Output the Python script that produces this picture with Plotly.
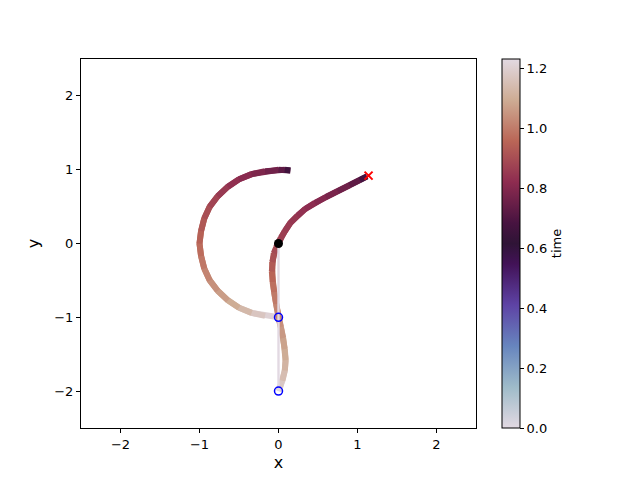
import plotly.graph_objects as go

# ---------------- data ----------------
T_MAX = 1.23  # top of the colour scale (time)

# inner bob path (x, y) and time at each point
bob1_x = [0.00, -0.17, -0.34, -0.50, -0.64, -0.77, -0.87, -0.94, -0.98, -1.00,
          -0.98, -0.94, -0.87, -0.77, -0.64, -0.50, -0.34, -0.17, 0.00, 0.08, 0.15]
bob1_y = [-1.00, -0.98, -0.94, -0.87, -0.77, -0.64, -0.50, -0.34, -0.17, 0.00,
          0.17, 0.34, 0.50, 0.64, 0.77, 0.87, 0.94, 0.98, 1.00, 1.00, 0.99]
bob1_t = [1.22, 1.19, 1.15, 1.11, 1.08, 1.05, 1.03, 1.00, 0.98, 0.955,
          0.935, 0.91, 0.89, 0.865, 0.84, 0.82, 0.80, 0.78, 0.75, 0.70, 0.63]

# outer bob path (x, y) and time at each point
bob2_x = [0.00, 0.02, 0.05, 0.08, 0.09, 0.08, 0.06, 0.03, 0.00, -0.03, -0.055,
          -0.075, -0.085, -0.08, -0.06, -0.03, 0.00, 0.03, 0.08, 0.15, 0.24, 0.34,
          0.46, 0.60, 0.75, 0.90, 1.03, 1.12]
bob2_y = [-2.00, -1.95, -1.86, -1.72, -1.58, -1.43, -1.28, -1.13, -1.00, -0.82, -0.66,
          -0.52, -0.38, -0.25, -0.13, -0.05, 0.00, 0.08, 0.17, 0.28, 0.38, 0.47,
          0.55, 0.63, 0.71, 0.79, 0.86, 0.91]
bob2_t = [1.23, 1.195, 1.16, 1.13, 1.105, 1.085, 1.065, 1.045, 1.03, 1.005, 0.985,
          0.965, 0.94, 0.915, 0.895, 0.88, 0.87, 0.865, 0.86, 0.85, 0.84, 0.825,
          0.81, 0.79, 0.77, 0.745, 0.71, 0.65]

# initial configuration: pivot -> bob 1 -> bob 2
init_x = [0.0, 0.0, 0.0]
init_y = [0.0, -1.0, -2.0]
pivot_x, pivot_y = [0.0], [0.0]
start_x, start_y = [0.0, 0.0], [-1.0, -2.0]
target_x, target_y = [1.14], [0.92]

axis_ticks = [-2, -1, 0, 1, 2]
axis_ticktext = ["\u22122", "\u22121", "0", "1", "2"]
cbar_ticks = [0.0, 0.2, 0.4, 0.6, 0.8, 1.0, 1.2]
cbar_ticktext = ["0.0", "0.2", "0.4", "0.6", "0.8", "1.0", "1.2"]

# twilight colour scale
TWILIGHT = [
    (0.0, "#e2d9e2"), (1 / 9, "#9ebbc9"), (2 / 9, "#6785be"), (3 / 9, "#5e43a5"),
    (4 / 9, "#421257"), (0.5, "#2f1436"), (5 / 9, "#471340"), (6 / 9, "#8e2c50"),
    (7 / 9, "#ba6657"), (8 / 9, "#ceac94"), (1.0, "#e2d9e2"),
]


def _rgb(h):
    h = h.lstrip("#")
    return tuple(int(h[i:i + 2], 16) for i in (0, 2, 4))


def cmap(v):
    v = min(max(v, 0.0), 1.0)
    for (p0, c0), (p1, c1) in zip(TWILIGHT[:-1], TWILIGHT[1:]):
        if p0 <= v <= p1:
            f = 0 if p1 == p0 else (v - p0) / (p1 - p0)
            a, b = _rgb(c0), _rgb(c1)
            return "rgb(%d,%d,%d)" % tuple(round(a[k] + f * (b[k] - a[k])) for k in range(3))
    return TWILIGHT[-1][1]


fig = go.Figure()

# colour-coded trajectories: one trace per segment; each trace also runs
# on into the next segment so the joints have no notches
for xs, ys, ts in ((bob1_x, bob1_y, bob1_t), (bob2_x, bob2_y, bob2_t)):
    n = len(xs)
    for i in range(n - 1):
        tm = 0.5 * (ts[i] + ts[i + 1])
        j = min(i + 3, n)
        fig.add_trace(go.Scatter(
            x=xs[i:j], y=ys[i:j], mode="lines",
            line=dict(color=cmap(tm / T_MAX), width=6),
            showlegend=False, hoverinfo="skip"))

# initial configuration line (t = 0 colour)
fig.add_trace(go.Scatter(x=init_x, y=init_y, mode="lines",
                         line=dict(color=cmap(0.0), width=2.4),
                         showlegend=False, hoverinfo="skip"))

# markers
fig.add_trace(go.Scatter(x=pivot_x, y=pivot_y, mode="markers",
                         marker=dict(color="black", size=9),
                         showlegend=False))
fig.add_trace(go.Scatter(x=start_x, y=start_y, mode="markers",
                         marker=dict(symbol="circle-open", color="blue", size=8,
                                     line=dict(width=1.5)),
                         showlegend=False))
fig.add_trace(go.Scatter(x=target_x, y=target_y, mode="markers",
                         marker=dict(symbol="x-thin-open", color="red", size=8,
                                     line=dict(width=2, color="red")),
                         showlegend=False))

# colour bar carrier
fig.add_trace(go.Scatter(
    x=[None, None], y=[None, None], mode="markers",
    marker=dict(color=[0.0, T_MAX], cmin=0.0, cmax=T_MAX, size=0,
                colorscale=[[p, c] for p, c in TWILIGHT], showscale=True,
                colorbar=dict(
                    x=(502.5 - 81) / 395, xanchor="left", y=0.5, yanchor="middle",
                    len=1.0, lenmode="fraction", thickness=18, xpad=0, ypad=0,
                    outlinewidth=1, outlinecolor="black",
                    ticks="outside", ticklen=4, tickwidth=1, tickcolor="black",
                    tickvals=cbar_ticks, ticktext=cbar_ticktext,
                    tickfont=dict(size=13, color="black"),
                    title=dict(text="time", side="right",
                               font=dict(size=13, color="black")))),
    showlegend=False, hoverinfo="skip"))

axis_common = dict(
    range=[-2.5, 2.5], tickvals=axis_ticks, ticktext=axis_ticktext,
    showline=True, mirror=True, linecolor="black", linewidth=1,
    ticks="outside", ticklen=4, tickwidth=1, tickcolor="black",
    showgrid=False, zeroline=False,
    tickfont=dict(size=13, color="black"),
)

fig.update_layout(
    width=640, height=480,
    margin=dict(l=73, r=172, t=51, b=60),
    paper_bgcolor="white", plot_bgcolor="white",
    font=dict(family="DejaVu Sans", size=13, color="black"),
    xaxis=dict(axis_common, title=dict(text="x", standoff=6)),
    yaxis=dict(axis_common, title=dict(text="y", standoff=10)),
)

fig.write_html("out.html")
